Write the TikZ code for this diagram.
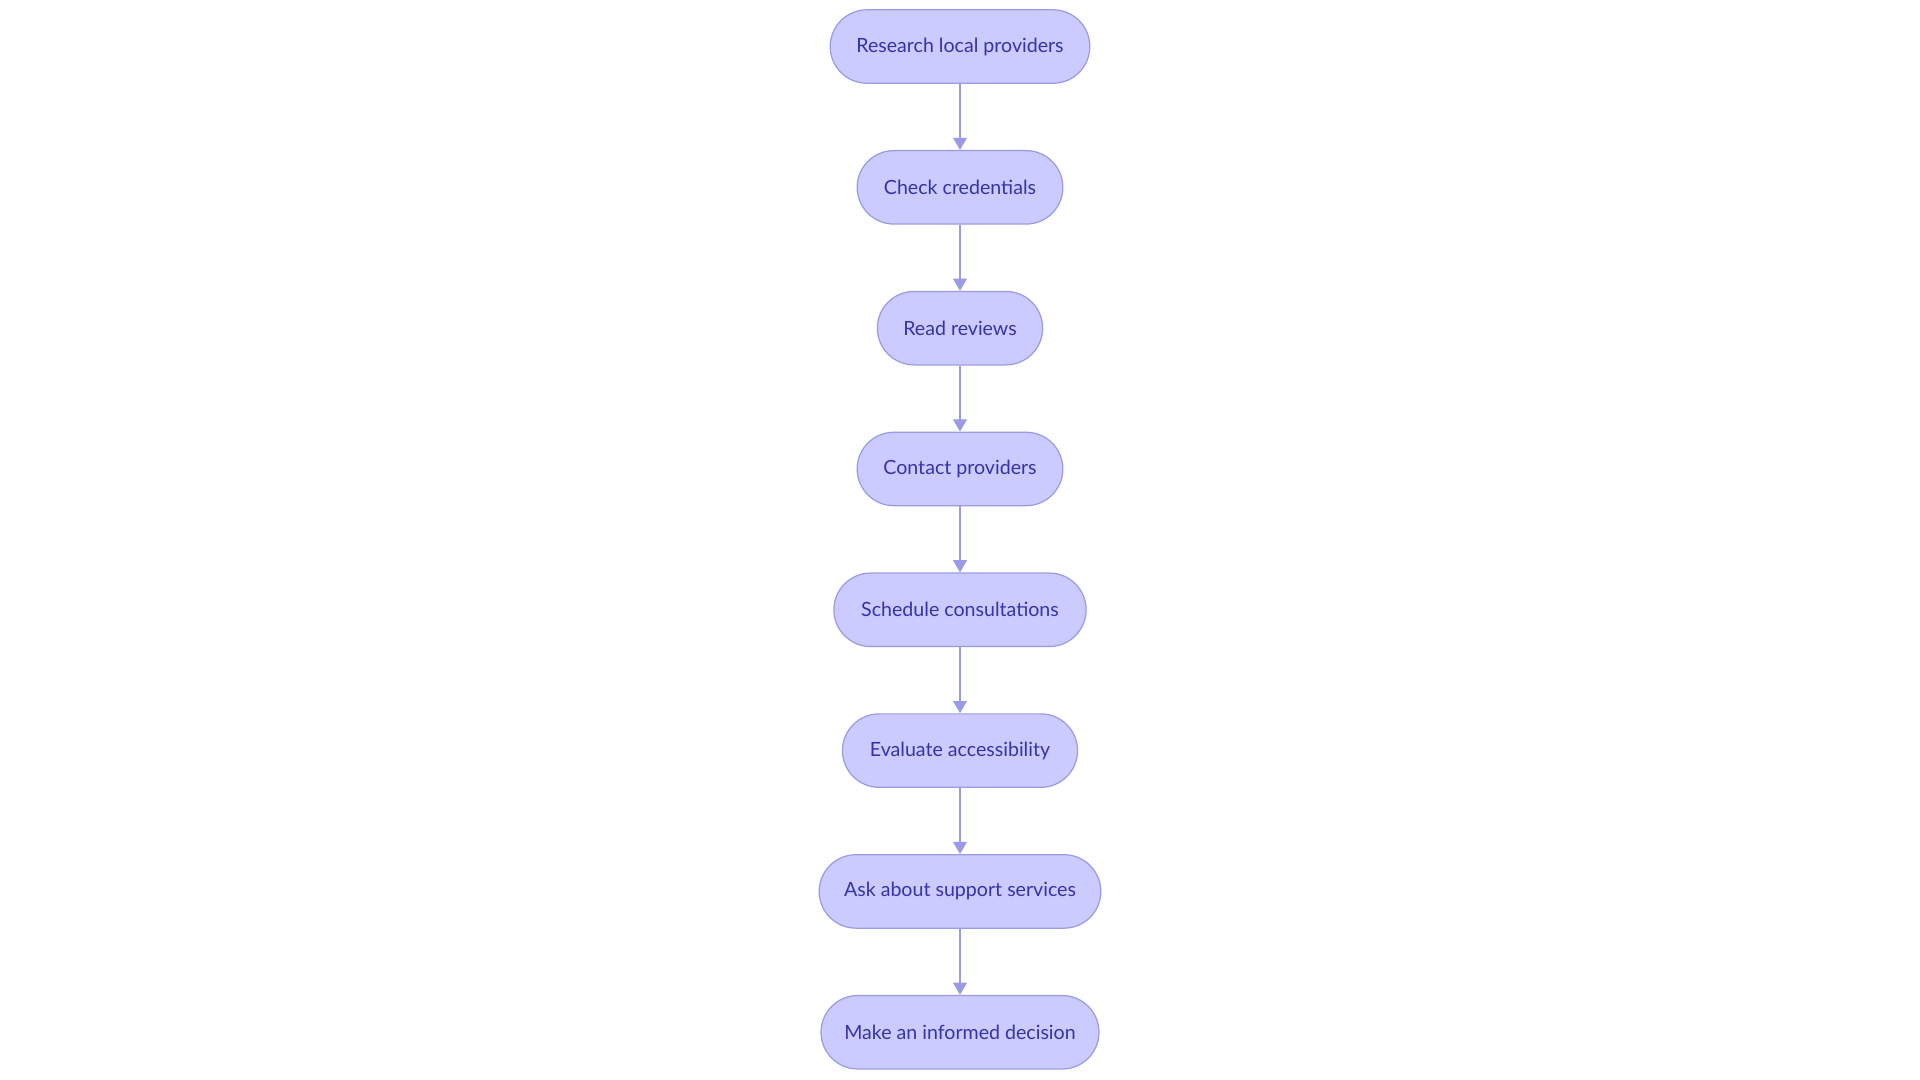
\documentclass[tikz,border=0pt]{standalone}
\usepackage{fontspec}
\setmainfont{Lato}
\usetikzlibrary{arrows.meta}
\definecolor{nfill}{HTML}{CBCBFF}
\definecolor{nline}{HTML}{9A9AE6}
\definecolor{ntext}{HTML}{3434A8}
\begin{document}
\begin{tikzpicture}[x=1pt,y=-1pt,
  pill/.style={draw=nline,fill=nfill,line width=1pt,rounded corners=30pt,minimum height=60pt,text=ntext,font=\fontsize{16}{18}\selectfont,inner sep=0pt},
  link/.style={draw=nline,line width=2pt,-{Triangle[length=10pt,width=11pt]}}]
\useasboundingbox (0,0) rectangle (1568,882);
\node[pill,minimum width=212pt] (n1) at (784,38) {Research local providers};
\node[pill,minimum width=168pt] (n2) at (784,153) {Check credentials};
\node[pill,minimum width=135pt] (n3) at (784,268) {Read reviews};
\node[pill,minimum width=168pt] (n4) at (784,383) {Contact providers};
\node[pill,minimum width=206pt] (n5) at (784,498) {Schedule consultations};
\node[pill,minimum width=192pt] (n6) at (784,613) {Evaluate accessibility};
\node[pill,minimum width=230pt] (n7) at (784,728) {Ask about support services};
\node[pill,minimum width=227pt] (n8) at (784,843) {Make an informed decision};
\foreach \a/\b in {n1/n2,n2/n3,n3/n4,n4/n5,n5/n6,n6/n7,n7/n8}
  \draw[link] (\a) -- (\b);
\end{tikzpicture}
\end{document}
